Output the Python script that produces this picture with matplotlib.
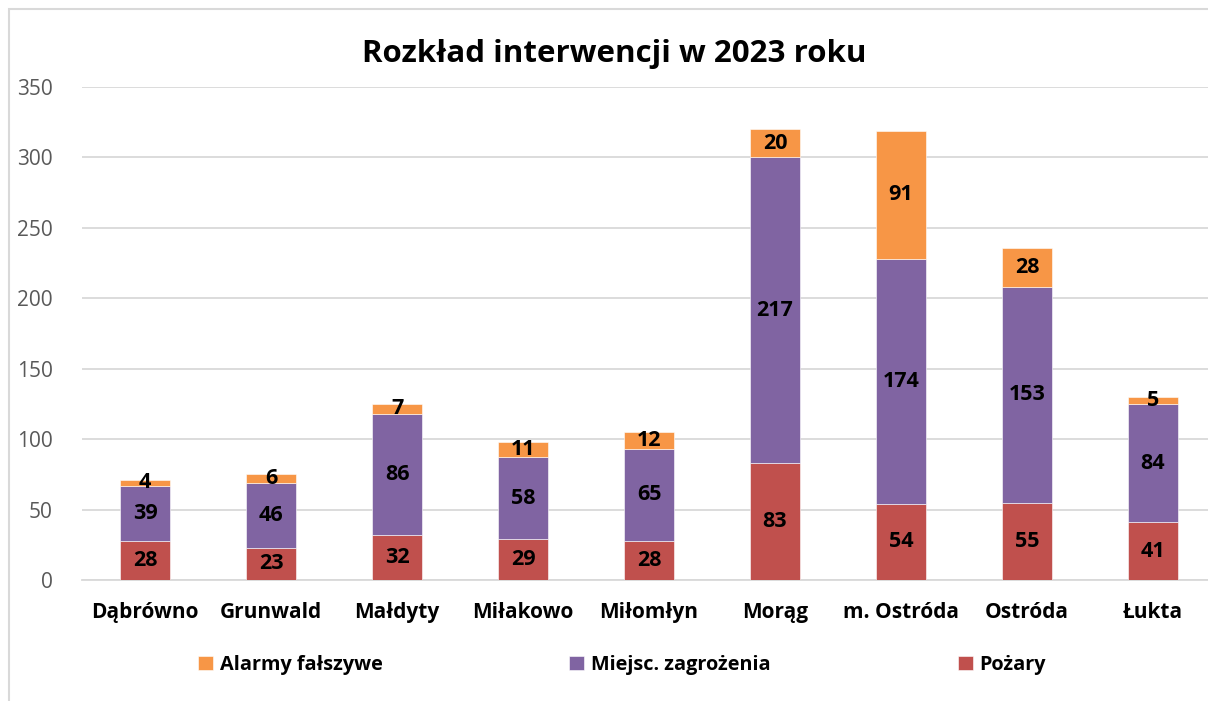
import matplotlib
matplotlib.use("Agg")
import matplotlib.pyplot as plt
import numpy as np
from matplotlib.patches import Rectangle

categories = ["Dąbrówno", "Grunwald", "Małdyty", "Miłakowo", "Miłomłyn",
              "Morąg", "m. Ostróda", "Ostróda", "Łukta"]
pozary = [28, 23, 32, 29, 28, 83, 54, 55, 41]
miejsc = [39, 46, 86, 58, 65, 217, 174, 153, 84]
alarmy = [4, 6, 7, 11, 12, 20, 91, 28, 5]
yticks = [0, 50, 100, 150, 200, 250, 300, 350]
title = "Rozkład interwencji w 2023 roku"

plt.rcParams['font.family'] = ['Open Sans', 'DejaVu Sans']

W, H = 1208, 701
fig = plt.figure(figsize=(W / 100, H / 100), dpi=100)
fig.patch.set_facecolor('white')

# chart border (light gray), cropped at right and bottom
fig.add_artist(Rectangle((9 / W, -0.1), 2.0, (H - 9) / H + 0.1,
                         transform=fig.transFigure, fill=False,
                         edgecolor='#D9D9D9', linewidth=1.5))

ax = fig.add_axes([82 / W, (H - 580) / H, 1134 / W, 493 / H])
x = np.arange(len(categories))
bw = 0.4
c_poz, c_mie, c_ala = '#C0504D', '#8064A2', '#F79646'

b1 = ax.bar(x, pozary, bw, color=c_poz, edgecolor='white', linewidth=0.4,
            label='Pożary', zorder=3)
b2 = ax.bar(x, miejsc, bw, bottom=pozary, color=c_mie, edgecolor='white',
            linewidth=0.4, label='Miejsc. zagrożenia', zorder=3)
bot3 = [p + m for p, m in zip(pozary, miejsc)]
b3 = ax.bar(x, alarmy, bw, bottom=bot3, color=c_ala, edgecolor='white',
            linewidth=0.4, label='Alarmy fałszywe', zorder=3)

for bars in (b1, b2, b3):
    ax.bar_label(bars, label_type='center', fontsize=15.5, fontweight='bold',
                 color='black', zorder=5)

ax.set_xlim(-0.5, len(categories) - 0.5)
ax.set_ylim(0, 350)
ax.set_yticks(yticks)
ax.set_xticks(x)
ax.set_xticklabels(categories, fontsize=15, fontweight='bold', color='black')
ax.tick_params(axis='y', labelsize=15, labelcolor='#595959', length=0, pad=21)
ax.tick_params(axis='x', length=0, pad=16)
ax.grid(axis='y', color='#D9D9D9', linewidth=1.3, zorder=0)
ax.set_axisbelow(True)
for s in ['top', 'right', 'left']:
    ax.spines[s].set_visible(False)
ax.spines['bottom'].set_color('#D9D9D9')
ax.spines['bottom'].set_linewidth(1.3)

fig.text(614 / W, 1 - 54 / H, title, ha='center', va='center',
         fontsize=22.5, fontweight='bold', color='black')

handles = [b3, b2, b1]
labels = ['Alarmy fałszywe', 'Miejsc. zagrożenia', 'Pożary']
leg = fig.legend(handles, labels, loc='center', bbox_to_anchor=(622 / W, 1 - 665 / H),
                 ncol=3, frameon=False, prop={'weight': 'bold', 'size': 14.3},
                 handlelength=0.75, handleheight=0.75, handletextpad=0.35,
                 columnspacing=9.4)

fig.savefig('out.png', dpi=100, facecolor='white')
